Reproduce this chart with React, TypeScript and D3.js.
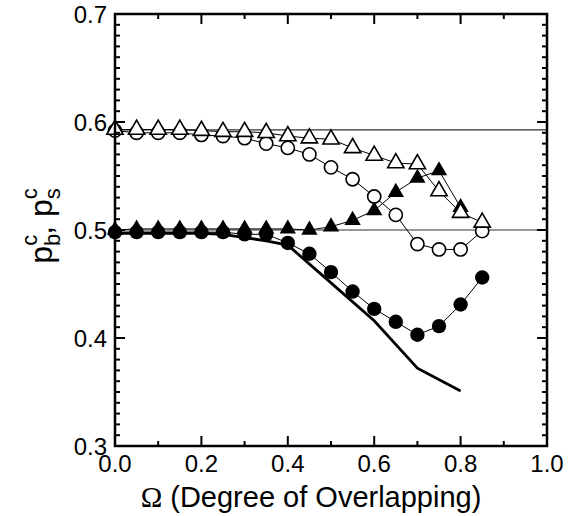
import * as d3 from "d3";

// Omega values for the marker series
const omega = [0, 0.05, 0.1, 0.15, 0.2, 0.25, 0.3, 0.35, 0.4, 0.45, 0.5, 0.55, 0.6, 0.65, 0.7, 0.75, 0.8, 0.85];

// open triangles
const openTri = [0.593, 0.593, 0.593, 0.593, 0.592, 0.591, 0.591, 0.590, 0.587, 0.585, 0.584, 0.576, 0.569, 0.562, 0.561, 0.536, 0.516, 0.507];
// open circles
const openCirc = [0.592, 0.590, 0.590, 0.590, 0.588, 0.587, 0.585, 0.580, 0.576, 0.570, 0.558, 0.547, 0.531, 0.514, 0.487, 0.482, 0.482, 0.499];
// filled triangles (end at 0.8)
const fillTri = [0.500, 0.501, 0.501, 0.501, 0.501, 0.501, 0.501, 0.501, 0.501, 0.500, 0.503, 0.509, 0.518, 0.535, 0.548, 0.555, 0.521];
// filled circles
const fillCirc = [0.498, 0.498, 0.498, 0.498, 0.498, 0.498, 0.496, 0.496, 0.488, 0.478, 0.461, 0.443, 0.427, 0.415, 0.403, 0.411, 0.431, 0.456];

// thick line without markers
const lineX = [0, 0.1, 0.2, 0.25, 0.3, 0.35, 0.4, 0.5, 0.6, 0.7, 0.8];
const lineY = [0.497, 0.497, 0.497, 0.496, 0.493, 0.490, 0.486, 0.451, 0.416, 0.372, 0.351];

// reference thresholds
const refLines = [0.5927, 0.5];

const xTicks = [0, 0.2, 0.4, 0.6, 0.8, 1.0];
const yTicks = [0.3, 0.4, 0.5, 0.6, 0.7];

const W = 574, H = 516;
const left = 115, right = 547, top = 14, bottom = 446;

export default function App() {
  const x = d3.scaleLinear().domain([0, 1]).range([left, right]);
  const y = d3.scaleLinear().domain([0.3, 0.7]).range([bottom, top]);

  const xMinor = d3.range(0, 1.0001, 0.1);
  const yMinor = d3.range(0.3, 0.7001, 0.01);

  const line = d3.line<[number, number]>().x((d) => x(d[0])).y((d) => y(d[1]));
  const pts = (ys: number[]) => ys.map((v, i) => [omega[i], v] as [number, number]);
  const tri = d3.symbol().type(d3.symbolTriangle).size(115)();

  return (
    <svg width={W} height={H} style={{ position: "absolute", left: 0, top: 0, background: "#fff" }}
      fontFamily="'Liberation Sans', Arial, sans-serif">
      {refLines.map((v) => (
        <line key={v} x1={left} x2={right} y1={y(v)} y2={y(v)} stroke="#333" strokeWidth={1.2} />
      ))}

      <path d={line(lineX.map((v, i) => [v, lineY[i]] as [number, number])) || ""} fill="none" stroke="#000" strokeWidth={2.8} />

      {[fillCirc, fillTri, openCirc, openTri].map((s, k) => (
        <path key={k} d={line(pts(s)) || ""} fill="none" stroke="#000" strokeWidth={1} />
      ))}

      {pts(fillCirc).map((d, i) => (
        <circle key={"fc" + i} cx={x(d[0])} cy={y(d[1])} r={7.2} fill="#000" />
      ))}
      {pts(fillTri).map((d, i) => (
        <path key={"ft" + i} d={tri || ""} transform={`translate(${x(d[0])},${y(d[1])})`} fill="#000" />
      ))}
      {pts(openCirc).map((d, i) => (
        <circle key={"oc" + i} cx={x(d[0])} cy={y(d[1])} r={6.6} fill="#fff" stroke="#000" strokeWidth={1.6} />
      ))}
      {pts(openTri).map((d, i) => (
        <path key={"ot" + i} d={tri || ""} transform={`translate(${x(d[0])},${y(d[1])})`} fill="#fff" stroke="#000" strokeWidth={1.6} />
      ))}

      {/* ticks, inward on all four sides */}
      {xMinor.map((v, i) => {
        const len = i % 2 === 0 ? 10 : 5;
        return (
          <g key={"xt" + i} stroke="#000" strokeWidth={2}>
            <line x1={x(v)} x2={x(v)} y1={bottom} y2={bottom - len} />
            <line x1={x(v)} x2={x(v)} y1={top} y2={top + len} />
          </g>
        );
      })}
      {yMinor.map((v, i) => {
        const len = i % 10 === 0 ? 10 : 5;
        return (
          <g key={"yt" + i} stroke="#000" strokeWidth={2}>
            <line x1={left} x2={left + len} y1={y(v)} y2={y(v)} />
            <line x1={right} x2={right - len} y1={y(v)} y2={y(v)} />
          </g>
        );
      })}
      <rect x={left} y={top} width={right - left} height={bottom - top} fill="none" stroke="#000" strokeWidth={2.5} />

      {xTicks.map((v) => (
        <text key={"xl" + v} x={x(v)} y={bottom + 26} textAnchor="middle" fontSize={24}>
          {v.toFixed(1)}
        </text>
      ))}
      {yTicks.map((v) => (
        <text key={"yl" + v} x={left - 8} y={y(v) + 9} textAnchor="end" fontSize={24}>
          {v.toFixed(1)}
        </text>
      ))}

      <text x={311} y={507} textAnchor="middle" fontSize={29}>
        <tspan fontFamily="'Liberation Serif', 'Times New Roman', serif">Ω</tspan> (Degree of Overlapping)
      </text>

      <text transform={`translate(52,226) rotate(-90)`} textAnchor="middle" fontSize={32}>
        p<tspan fontSize={22} dy={8}>b</tspan><tspan fontSize={22} dy={-23} dx={-12}>c</tspan>
        <tspan dy={15}>, p</tspan><tspan fontSize={22} dy={8}>s</tspan><tspan fontSize={22} dy={-23} dx={-11}>c</tspan>
      </text>
    </svg>
  );
}
